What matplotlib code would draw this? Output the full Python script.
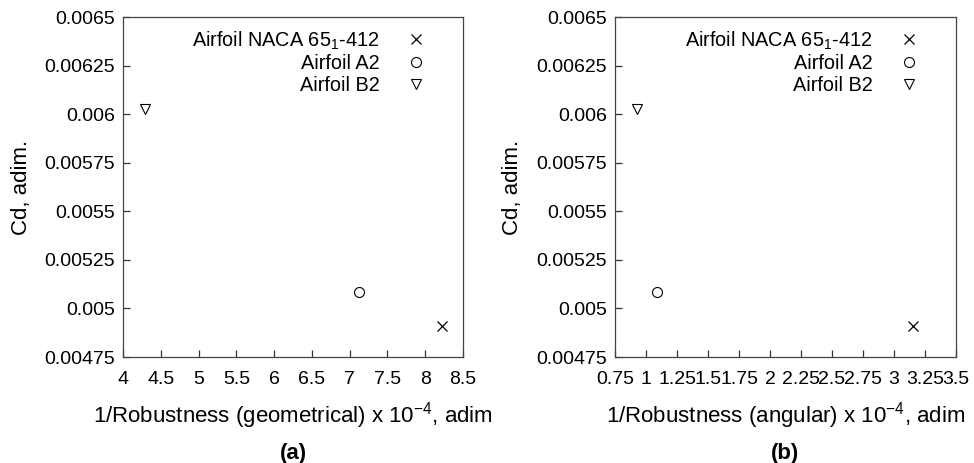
import numpy as np
import matplotlib.pyplot as plt
from matplotlib.ticker import FuncFormatter

plt.rcParams['font.family'] = ['Liberation Sans', 'DejaVu Sans']
plt.rcParams['mathtext.fontset'] = 'custom'
plt.rcParams['mathtext.rm'] = 'Liberation Sans'
plt.rcParams['mathtext.it'] = 'Liberation Sans'
plt.rcParams['mathtext.default'] = 'regular'

names = ['Airfoil NACA 65$_1$-412', 'Airfoil A2', 'Airfoil B2']
markers = ['x', 'o', 'v']
cd = [0.004908, 0.005086, 0.006026]
geom = [8.22, 7.12, 4.29]
angular = [3.15, 1.09, 0.925]

panels = [
    (geom, '1/Robustness (geometrical) x 10$^{-4}$, adim', (4, 8.5), 0.5, '(a)'),
    (angular, '1/Robustness (angular) x 10$^{-4}$, adim', (0.75, 3.5), 0.25, '(b)'),
]

fig = plt.figure(figsize=(9.74, 4.63), dpi=100)
rects = [[123/974, 1 - 357/463, 340/974, 340/463],
         [615/974, 1 - 357/463, 341/974, 340/463]]
tag_x = [293/974, 785/974]

def fmt(v, pos):
    return '%g' % round(v, 6)

for rect, tx, (xs, xlab, xlim, step, tag) in zip(rects, tag_x, panels):
    ax = fig.add_axes(rect)
    for x, y, m, n in zip(xs, cd, markers, names):
        if m == 'x':
            ax.plot(x, y, ls='none', marker=m, ms=7.5, mew=0.9, color='black', label=n)
        else:
            ax.plot(x, y, ls='none', marker=m, ms=7.2, mew=0.8, mfc='none', mec='black', label=n)
    ax.set_xlim(*xlim)
    ax.set_ylim(0.00475, 0.0065)
    ax.set_xticks(np.arange(xlim[0], xlim[1] + step / 2, step))
    ax.set_yticks(np.arange(0.00475, 0.0065 + 0.0001, 0.00025))
    ax.xaxis.set_major_formatter(FuncFormatter(fmt))
    ax.yaxis.set_major_formatter(FuncFormatter(fmt))
    ax.tick_params(direction='in', length=5, width=0.9, labelsize=14, color='#333333')
    ax.tick_params(axis='x', pad=10)
    ax.tick_params(axis='y', pad=6)
    for s in ax.spines.values():
        s.set_color('#444444')
        s.set_linewidth(0.9)
    ax.set_xlabel(xlab, fontsize=16, va='center')
    ax.xaxis.set_label_coords(0.5, -0.172)
    ax.set_ylabel('Cd, adim.', fontsize=16, va='center')
    ax.yaxis.set_label_coords(-0.3, 0.5)
    ax.legend(loc='upper right', bbox_to_anchor=(0.921, 0.964), frameon=False,
              markerfirst=False, fontsize=14.3, handlelength=2.0, handletextpad=0.85,
              labelspacing=0.13, borderaxespad=0, borderpad=0, numpoints=1)
    fig.text(tx, 0.02, tag, ha='center', va='center', fontsize=16, fontweight='bold')

fig.savefig('out.png', dpi=100)
